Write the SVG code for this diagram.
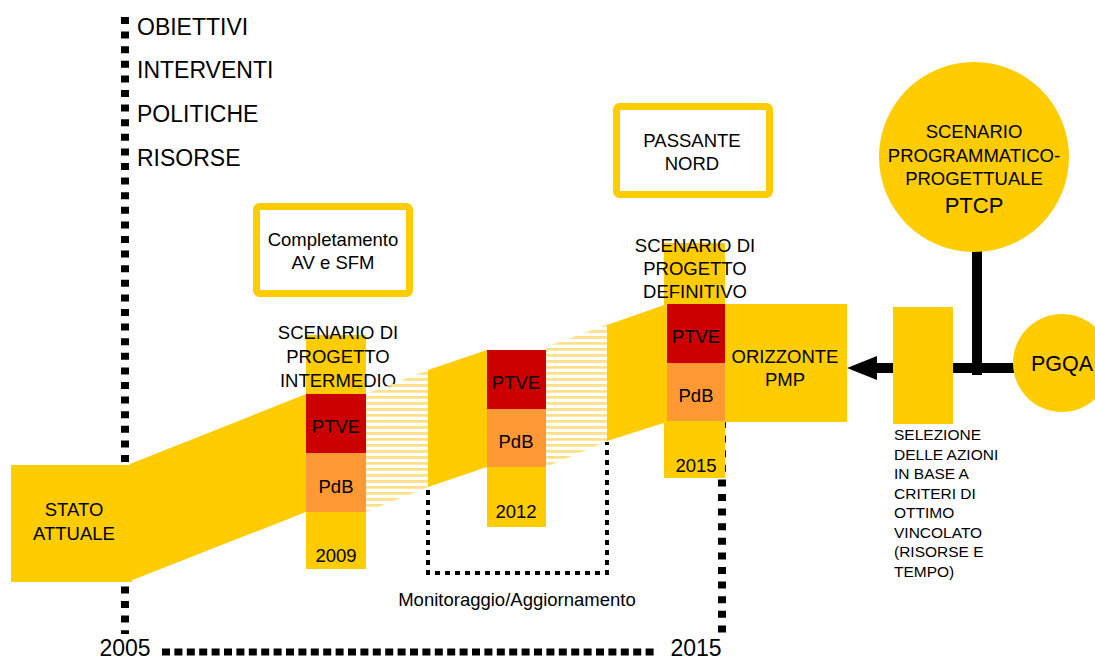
<svg xmlns="http://www.w3.org/2000/svg" width="1095" height="662" viewBox="0 0 1095 662">
<defs>
<pattern id="hatch" patternUnits="userSpaceOnUse" width="10" height="6">
<rect x="0" y="0" width="10" height="2.8" fill="#FFE18A"/>
</pattern>
<style>
text{font-family:"Liberation Sans",Arial,sans-serif;fill:#000;}
.t{font-size:18.5px;text-anchor:middle;}
.big{font-size:23px;}
.yr{font-size:23px;text-anchor:middle;}
.sel{font-size:15.5px;}
.y{fill:#FFCC00;}
.r{fill:#CC0000;}
.o{fill:#FF9933;}
.h{fill:url(#hatch);}
.frame{fill:#fff;stroke:#FFCC00;stroke-width:7;}
.dot{fill:none;stroke:#000;}
</style>
</defs>
<rect width="1095" height="662" fill="#fff"/>

<g id="axes">
<line class="dot" x1="125" y1="17" x2="125" y2="634" stroke-width="8" stroke-dasharray="7 7.6"/>
<line class="dot" x1="162" y1="652" x2="656" y2="652" stroke-width="7" stroke-dasharray="8 4.4"/>
<line class="dot" x1="722" y1="421" x2="722" y2="633" stroke-width="8" stroke-dasharray="7 7.6"/>
<path class="dot" d="M428,490 V573 H607 V442" stroke-width="4" stroke-dasharray="5 5"/>
</g>

<g id="labels">
<text class="big" x="137" y="35">OBIETTIVI</text>
<text class="big" x="137" y="78">INTERVENTI</text>
<text class="big" x="137" y="122">POLITICHE</text>
<text class="big" x="137" y="166">RISORSE</text>
<text class="yr" x="125" y="656">2005</text>
<text class="yr" x="696" y="656">2015</text>
<text class="t" x="517" y="606">Monitoraggio/Aggiornamento</text>
</g>

<g id="connectors">
<line x1="870" y1="368" x2="1015" y2="368" stroke="#000" stroke-width="10"/>
<line x1="977" y1="245" x2="977" y2="375" stroke="#000" stroke-width="10"/>
<polygon points="847,368 877,356 877,380" fill="#000"/>
</g>

<g id="stato-attuale">
<rect class="y" x="11" y="465" width="121" height="117"/>
<polygon class="y" points="130,464 306,394 306,512 130,581"/>
<text class="t" x="74" y="516">STATO</text>
<text class="t" x="74" y="540">ATTUALE</text>
</g>

<g id="scenario-2009">
<rect class="y" x="306" y="335" width="60" height="234"/>
<rect class="r" x="306" y="394" width="60" height="59"/>
<rect class="o" x="306" y="453" width="60" height="59"/>
<text class="t" x="338" y="339">SCENARIO DI</text>
<text class="t" x="338" y="363">PROGETTO</text>
<text class="t" x="338" y="387">INTERMEDIO</text>
<text class="t" x="336" y="433">PTVE</text>
<text class="t" x="336" y="493">PdB</text>
<text class="t" x="336" y="562">2009</text>
</g>

<g id="transition-1">
<polygon class="h" points="366,394 428,370 428,487 366,512"/>
<polygon class="y" points="428,370 487,350 487,467 428,487"/>
</g>

<g id="scenario-2012">
<rect class="r" x="487" y="350" width="59" height="59"/>
<rect class="o" x="487" y="409" width="59" height="58"/>
<rect class="y" x="487" y="467" width="59" height="60"/>
<text class="t" x="516" y="389">PTVE</text>
<text class="t" x="516" y="448">PdB</text>
<text class="t" x="516" y="518">2012</text>
</g>

<g id="transition-2">
<polygon class="h" points="546,347 608,324 608,441 546,467"/>
<polygon class="y" points="607,325 667,304 667,422 607,441"/>
</g>

<g id="scenario-2015">
<rect class="y" x="664" y="243" width="61" height="235"/>
<rect class="r" x="667" y="304" width="60" height="59"/>
<rect class="o" x="667" y="363" width="60" height="58"/>
<text class="t" x="695" y="252">SCENARIO DI</text>
<text class="t" x="695" y="275">PROGETTO</text>
<text class="t" x="695" y="298">DEFINITIVO</text>
<text class="t" x="696" y="343">PTVE</text>
<text class="t" x="696" y="402">PdB</text>
<text class="t" x="696" y="472">2015</text>
</g>

<g id="orizzonte-pmp">
<rect class="y" x="725" y="304" width="122" height="118"/>
<text class="t" x="785" y="363">ORIZZONTE</text>
<text class="t" x="785" y="386">PMP</text>
</g>

<g id="completamento">
<rect class="frame" x="256.5" y="206.5" width="153" height="87" rx="3"/>
<text class="t" x="333" y="246">Completamento</text>
<text class="t" x="333" y="269">AV e SFM</text>
</g>

<g id="passante-nord">
<rect class="frame" x="616.5" y="106.5" width="153" height="88" rx="3"/>
<text class="t" x="692" y="147">PASSANTE</text>
<text class="t" x="692" y="170">NORD</text>
</g>

<g id="selezione">
<rect class="y" x="893" y="307" width="60" height="117"/>
<text class="sel" x="894" y="440">SELEZIONE</text>
<text class="sel" x="894" y="459.5">DELLE AZIONI</text>
<text class="sel" x="894" y="479">IN BASE A</text>
<text class="sel" x="894" y="498.5">CRITERI DI</text>
<text class="sel" x="894" y="518">OTTIMO</text>
<text class="sel" x="894" y="537.5">VINCOLATO</text>
<text class="sel" x="894" y="557">(RISORSE E</text>
<text class="sel" x="894" y="576.5">TEMPO)</text>
</g>

<g id="ptcp">
<circle class="y" cx="974" cy="157" r="95"/>
<text class="t" x="974" y="138">SCENARIO</text>
<text class="t" x="974" y="162">PROGRAMMATICO-</text>
<text class="t" x="974" y="185">PROGETTUALE</text>
<text class="t" x="974" y="213" style="font-size:22px">PTCP</text>
</g>

<g id="pgqa">
<circle class="y" cx="1062" cy="363" r="49"/>
<text class="t" x="1062" y="371" style="font-size:21.5px">PGQA</text>
</g>
</svg>
